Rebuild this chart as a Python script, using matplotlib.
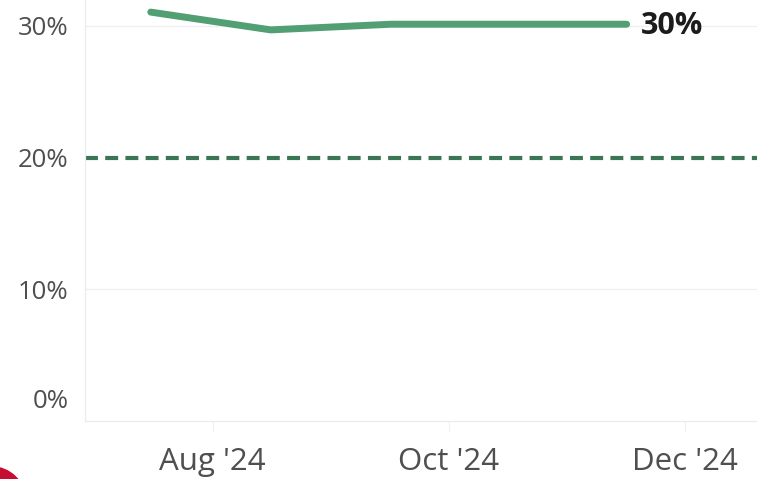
import matplotlib
matplotlib.use("Agg")
import matplotlib.pyplot as plt
import matplotlib.dates as mdates
from matplotlib.patches import Circle
import numpy as np
import datetime as dt

# Data
dates = ["2024-07-16", "2024-08-16", "2024-09-16", "2024-10-16", "2024-11-16"]
values = [31.05, 29.7, 30.13, 30.13, 30.13]
target = 20
ytick_vals = [0, 10, 20, 30]
ytick_labels = ["0%", "10%", "20%", "30%"]
xtick_dates = ["2024-08-01", "2024-10-01", "2024-12-01"]
xtick_labels = ["Aug '24", "Oct '24", "Dec '24"]

plt.rcParams['font.family'] = ['Open Sans', 'DejaVu Sans']

W, H = 757, 479
fig = plt.figure(figsize=(W / 100, H / 100), dpi=100)
fig.patch.set_facecolor("white")

ax_left, ax_bottom = 85, 421
ax = fig.add_axes([ax_left / W, (H - ax_bottom) / H, 1 - ax_left / W, ax_bottom / H])

x = mdates.datestr2num(dates)
xt = mdates.datestr2num(xtick_dates)

ax.set_xlim(mdates.datestr2num("2024-06-29"), mdates.datestr2num("2024-12-19") + 0.7)
ax.set_ylim(0, 31.97)

line_color = "#519f72"
dash_color = "#3a7656"
label_color = "#4f4f4f"

ax.axhline(target, color=dash_color, lw=3, dashes=(3.1, 1.75), zorder=2)
ax.plot(x, values, color=line_color, lw=5, solid_capstyle="round",
        solid_joinstyle="round", zorder=3)

ax.annotate(f"{round(values[-1])}%", xy=(x[-1], values[-1]), xytext=(10, -1),
            textcoords="offset points", ha="left", va="center",
            fontsize=22, fontweight="bold", color="#1c1c1c")

# grid
for v in ytick_vals[1:]:
    if v != target:
        ax.axhline(v, color="#efefef", lw=0.9, zorder=1)

for s in ["top", "right"]:
    ax.spines[s].set_visible(False)
for s in ["left", "bottom"]:
    ax.spines[s].set_color("#ececec")
    ax.spines[s].set_linewidth(0.9)

ax.set_yticks(ytick_vals[1:])
ax.set_yticklabels(ytick_labels[1:])
ax.tick_params(axis="y", length=0, pad=12, labelsize=18.5, labelcolor=label_color)
ax.annotate(ytick_labels[0], xy=(0, ytick_vals[0]), xycoords=("axes fraction", "data"),
            xytext=(-12, 14), textcoords="offset points", ha="right", va="center",
            fontsize=18.5, color=label_color, annotation_clip=False)

ax.set_xticks(xt)
ax.set_xticklabels(xtick_labels)
ax.tick_params(axis="x", length=8, width=0.8, color="#f0f0f0", pad=11,
               labelsize=22.5, labelcolor=label_color)

# logo fragment bottom-left
fig.patches.append(Circle((-0.08, -0.21), 0.33, transform=fig.dpi_scale_trans,
                          color="#c60c30", zorder=10))

fig.savefig("out.png", dpi=100)
